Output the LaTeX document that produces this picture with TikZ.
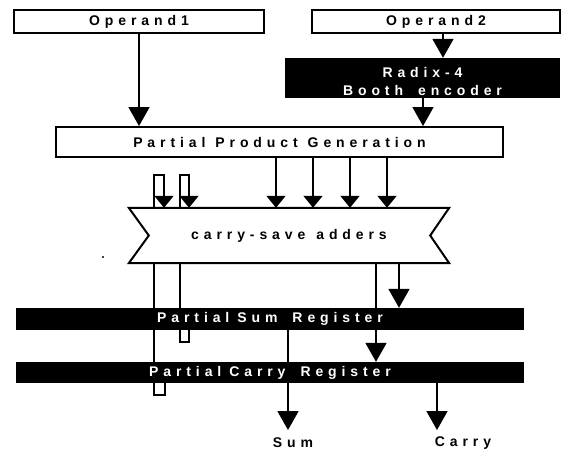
\documentclass[tikz,border=0pt]{standalone}
\usepackage{fontspec}
\setmainfont{Liberation Sans}
\newfontfamily\spacedsans[LetterSpace=35]{Liberation Sans Bold}
\usetikzlibrary{arrows.meta,backgrounds}
% narrower gap used between "Partial" and the following word
\newcommand\tightgap{\hspace{8pt}}

\tikzset{
  lbltext/.style={font={\spacedsans\fontsize{14}{18}\selectfont\spaceskip=15pt\relax}},
  whitebox/.style={draw, line width=2pt, fill=white, inner sep=0pt, lbltext},
  blackbar/.style={fill=black, text=white, inner sep=0pt, lbltext},
  wire/.style={line width=1.8pt, line join=miter},
  bigarrow/.style={wire, -{Triangle[width=21pt,length=19pt]}},
  smallarrow/.style={wire, -{Triangle[width=19pt,length=12pt]}},
}

\begin{document}
\begin{tikzpicture}[x=1pt,y=-1pt]
\useasboundingbox (0,0) rectangle (563,451);

% operand registers and encoder
\node[whitebox, minimum width=250pt, minimum height=23pt] (op1) at (139,21.5) {Operand1};
\node[whitebox, minimum width=248pt, minimum height=23pt] (op2) at (436,21.5) {Operand2};
\node[blackbar, minimum width=275pt, minimum height=40pt] (booth) at (422.5,78) {};
\node[lbltext, text=white, align=center, inner sep=0pt] (boothtext) at (422.5,81) {Radix-4\\Booth encoder};

% partial product generation
\node[whitebox, minimum width=447pt, minimum height=30pt] (ppg) at (279.5,142)
  {\spaceskip=10pt Partial Product Generation};

% carry-save adder array
\node[lbltext, minimum width=320pt, minimum height=55pt, inner sep=0pt] (csa) at (289,235.5)
  {\spaceskip=11pt carry-save adders};

% sum and carry registers
\node[blackbar, minimum width=508pt, minimum height=22pt] (psr) at (270,319) {Partial\tightgap{}Sum Register};
\node[blackbar, minimum width=508pt, minimum height=21pt] (pcr) at (270,372.5) {Partial\tightgap{}Carry Register};

% outputs
\coordinate (sum) at (288,430);
\coordinate (carry) at (437,430);
\node[lbltext, inner sep=0pt] (sumlabel) at (293,443) {Sum};
\node[lbltext, inner sep=0pt] (carrylabel) at (463,443) {Carry};

% column positions of the vertical wires
\coordinate (xenc) at (443,0);
\coordinate (xbooth) at (423,0);
\coordinate (xbusA) at (154,0);
\coordinate (xbusAr) at (164,0);
\coordinate (xbusB) at (180,0);
\coordinate (xbusBr) at (189,0);
\coordinate (xstubA) at (165,0);
\coordinate (xcarryin) at (376,0);
\coordinate (xsumin) at (399,0);

\begin{scope}[on background layer]
  % adder outline with notched ends
  \draw[line width=2pt, line join=miter, fill=white]
    (csa.north west) -- (csa.north east) -- ([xshift=-19pt]csa.east)
    -- (csa.south east) -- (csa.south west) -- ([xshift=20pt]csa.west) -- cycle;

  % operands to partial products
  \draw[bigarrow] (op1.south) -- (op1.south |- ppg.north);
  \draw[bigarrow] (op2.south -| xenc) -- (booth.north -| xenc);
  \draw[bigarrow] (booth.south -| xbooth) -- (ppg.north -| xbooth);

  % partial products into the adders
  \foreach \px in {276,313,350,387}{
    \coordinate (pp) at (\px,0);
    \draw[smallarrow] (ppg.south -| pp) -- (csa.north -| pp);
  }

  % fed-back buses into the adders
  \draw[smallarrow] (csa.north -| xbusA) -- ++(0,-33) -| (csa.north -| xbusAr);
  \draw[smallarrow] (csa.north -| xbusB) -- ++(0,-33) -| (csa.north -| xbusBr);

  % buses leaving the adders
  \draw[wire] (csa.south -| xbusA) -- (pcr.north -| xbusA);
  \draw[wire] (csa.south -| xbusB) -- (psr.north -| xbusB);
  \draw[wire] (psr.south -| xbusB) -- ++(0,12) -| (psr.south -| xbusBr);
  \draw[wire] (pcr.south -| xbusA) -- ++(0,12) -| (pcr.south -| xstubA);

  % adder outputs into the registers
  \draw[bigarrow] (csa.south -| xcarryin) -- (pcr.north -| xcarryin);
  \draw[bigarrow] (csa.south -| xsumin) -- (psr.north -| xsumin);

  % register outputs
  \draw[bigarrow] (psr.south -| sum) -- (sum);
  \draw[bigarrow] (pcr.south -| carry) -- (carry);
\end{scope}

\fill (103,257) circle (1.2pt);
\end{tikzpicture}
\end{document}
